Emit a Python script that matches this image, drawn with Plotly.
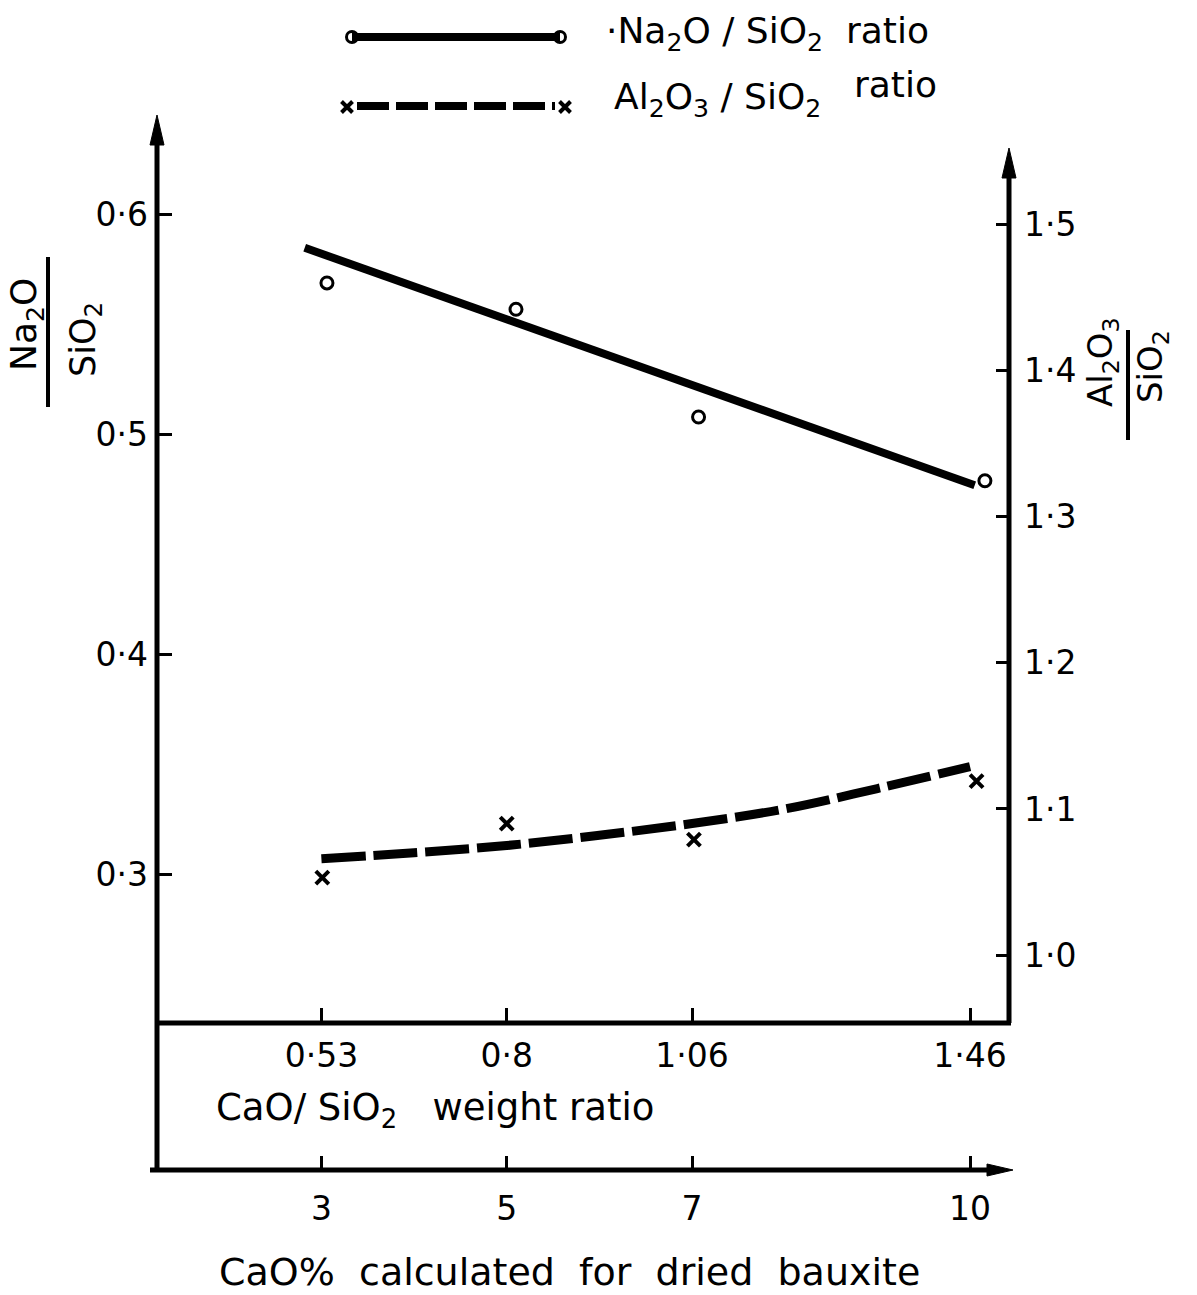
import plotly.graph_objects as go

W, H = 1197, 1295

# CaO content of dried bauxite (%) and the matching CaO/SiO2 weight ratios
cao_pct = [3, 5, 7, 10]
cao_pct_text = ["3", "5", "7", "10"]
cao_sio2_text = ["0·53", "0·8", "1·06", "1·46"]

# Na2O/SiO2 ratio: measured points and fitted straight line
na_x = [3.06, 5.10, 7.07, 10.16]
na_ratio = [0.569, 0.557, 0.508, 0.479]
na_fit_x = [2.82, 10.05]
na_fit = [0.585, 0.477]

# Al2O3/SiO2 ratio: measured points and smoothed curve
al_x = [3.01, 5.00, 7.02, 10.07]
al_ratio = [1.053, 1.090, 1.079, 1.119]
al_fit_x = [3, 4, 5, 6, 7, 8, 9, 10]
al_fit = [1.066, 1.070, 1.075, 1.082, 1.090, 1.100, 1.114, 1.129]

left_ticks = [0.3, 0.4, 0.5, 0.6]
left_text = ["0·3", "0·4", "0·5", "0·6"]
right_ticks = [1.0, 1.1, 1.2, 1.3, 1.4, 1.5]
right_text = ["1·0", "1·1", "1·2", "1·3", "1·4", "1·5"]

FONT = "DejaVu Sans"
INK = "black"
CLEAR = "rgba(0,0,0,0)"


def px(x):
    return x / W


def py(y):
    return 1 - y / H


# frame geometry (page pixels)
X_LEFT, X_RIGHT = 157, 1009
Y_TOP, Y_RATIO, Y_PCT = 115, 1023, 1170

fig = go.Figure()

# Na2O/SiO2 (left axis)
fig.add_trace(go.Scatter(x=na_fit_x, y=na_fit, mode="lines",
                         line=dict(color=INK, width=8), hoverinfo="skip"))
fig.add_trace(go.Scatter(x=na_x, y=na_ratio, mode="markers",
                         marker=dict(symbol="circle-open", size=12, color=INK,
                                     line=dict(width=3, color=INK))))

# Al2O3/SiO2 (right axis, plotted against the CaO % axis)
fig.add_trace(go.Scatter(x=al_fit_x, y=al_fit, mode="lines", xaxis="x2", yaxis="y2",
                         line=dict(color=INK, width=9, dash="44px,8px",
                                   shape="spline"), hoverinfo="skip"))
fig.add_trace(go.Scatter(x=al_x, y=al_ratio, mode="markers", xaxis="x2", yaxis="y2",
                         marker=dict(symbol="x-thin", size=13, color=INK,
                                     line=dict(width=4, color=INK))))

# legend samples drawn on a hidden unit canvas
leg_x = [px(352), px(560)]
fig.add_trace(go.Scatter(x=leg_x, y=[py(37), py(37)], mode="lines", xaxis="x3", yaxis="y3",
                         line=dict(color=INK, width=8), hoverinfo="skip"))
fig.add_trace(go.Scatter(x=leg_x, y=[py(37), py(37)], mode="markers", xaxis="x3", yaxis="y3",
                         marker=dict(symbol="circle-open", size=11, color=INK,
                                     line=dict(width=3, color=INK)), hoverinfo="skip"))
leg2_x = [px(347), px(565)]
fig.add_trace(go.Scatter(x=[px(357), px(555)], y=[py(106), py(106)], mode="lines",
                         xaxis="x3", yaxis="y3",
                         line=dict(color=INK, width=8, dash="32px,7px"), hoverinfo="skip"))
fig.add_trace(go.Scatter(x=leg2_x, y=[py(107), py(107)], mode="markers", xaxis="x3", yaxis="y3",
                         marker=dict(symbol="x-thin", size=11, color=INK,
                                     line=dict(width=4, color=INK)), hoverinfo="skip"))

tickfont = dict(family=FONT, size=33, color=INK)
x_range = [1.226, 10.42]

fig.update_layout(
    width=W, height=H,
    margin=dict(l=0, r=0, t=0, b=0),
    paper_bgcolor="white", plot_bgcolor=CLEAR,
    showlegend=False,
    xaxis=dict(domain=[px(X_LEFT), px(X_RIGHT)], range=x_range, anchor="y",
               tickvals=cao_pct, ticktext=cao_sio2_text, ticks="inside",
               ticklen=15, tickwidth=3, tickcolor=INK, tickfont=tickfont,
               ticklabelstandoff=10,
               showline=False, showgrid=False, zeroline=False),
    xaxis2=dict(overlaying="x", range=x_range, anchor="free", position=py(Y_PCT),
                tickvals=cao_pct, ticktext=cao_pct_text, ticks="inside",
                ticklen=14, tickwidth=3, tickcolor=INK, tickfont=tickfont,
                ticklabelstandoff=16,
                showline=False, showgrid=False, zeroline=False),
    yaxis=dict(domain=[py(Y_RATIO), py(Y_TOP)], range=[0.2323, 0.6454], anchor="x",
               tickvals=left_ticks, ticktext=left_text, ticks="inside",
               ticklen=15, tickwidth=3, tickcolor=INK, tickfont=tickfont,
               ticklabelstandoff=8,
               showline=False, showgrid=False, zeroline=False),
    yaxis2=dict(overlaying="y", side="right", anchor="x", range=[0.9535, 1.575],
                tickvals=right_ticks, ticktext=right_text, ticks="inside",
                ticklen=13, tickwidth=3, tickcolor=INK, tickfont=tickfont,
                ticklabelstandoff=14,
                showline=False, showgrid=False, zeroline=False),
    xaxis3=dict(domain=[0, 1], range=[0, 1], visible=False, anchor="y3"),
    yaxis3=dict(domain=[0, 1], range=[0, 1], visible=False, anchor="x3"),
)

# hand-drawn style frame: two vertical axes, ratio axis and the CaO % axis
line = dict(color=INK, width=5)
shapes = [
    dict(type="line", xref="paper", yref="paper", x0=px(X_LEFT), x1=px(X_LEFT),
         y0=py(Y_TOP + 20), y1=py(Y_PCT), line=line),
    dict(type="line", xref="paper", yref="paper", x0=px(X_RIGHT), x1=px(X_RIGHT),
         y0=py(170), y1=py(Y_RATIO), line=line),
    dict(type="line", xref="paper", yref="paper", x0=px(X_LEFT), x1=px(X_RIGHT + 2),
         y0=py(Y_RATIO), y1=py(Y_RATIO), line=line),
    dict(type="line", xref="paper", yref="paper", x0=px(150), x1=px(995),
         y0=py(Y_PCT), y1=py(Y_PCT), line=line),
]


def arrow_up(xc, tip, length=30, half=7):
    return (f"M {px(xc)},{py(tip)} L {px(xc - half)},{py(tip + length)} "
            f"L {px(xc + half)},{py(tip + length)} Z")


def arrow_right(yc, tip, length=26, half=6):
    return (f"M {px(tip)},{py(yc)} L {px(tip - length)},{py(yc - half)} "
            f"L {px(tip - length)},{py(yc + half)} Z")


for path in (arrow_up(X_LEFT, Y_TOP), arrow_up(X_RIGHT, 148), arrow_right(Y_PCT, 1013)):
    shapes.append(dict(type="path", xref="paper", yref="paper", path=path,
                       fillcolor=INK, line=dict(color=INK, width=1)))

# fraction bars of the axis titles
shapes.append(dict(type="line", xref="paper", yref="paper", x0=px(48), x1=px(48),
                   y0=py(257), y1=py(407), line=dict(color=INK, width=4)))
shapes.append(dict(type="line", xref="paper", yref="paper", x0=px(1128), x1=px(1128),
                   y0=py(330), y1=py(440), line=dict(color=INK, width=4)))
fig.update_layout(shapes=shapes)


def label(text, x, y, xanchor="left", angle=0, size=34):
    fig.add_annotation(text=text, x=px(x), y=py(y), xref="paper", yref="paper",
                       xanchor=xanchor, yanchor="middle", textangle=angle,
                       showarrow=False, font=dict(family=FONT, size=size, color=INK))


label("Na<sub>2</sub>O", 27, 325, xanchor="center", angle=-90, size=36)
label("SiO<sub>2</sub>", 86, 340, xanchor="center", angle=-90, size=35)
label("Al<sub>2</sub>O<sub>3</sub>", 1102, 362, xanchor="center", angle=-90)
label("SiO<sub>2</sub>", 1152, 367, xanchor="center", angle=-90)

label("·Na<sub>2</sub>O / SiO<sub>2</sub>\u00a0\u00a0ratio", 604, 34, size=36)
label("Al<sub>2</sub>O<sub>3</sub> / SiO<sub>2</sub>", 612, 100, size=36)
label("ratio", 852, 85, size=36)

label("CaO/ SiO<sub>2</sub>\u00a0\u00a0\u00a0weight ratio", 214, 1110, size=37)
label("CaO%\u00a0\u00a0calculated\u00a0\u00a0for\u00a0\u00a0dried\u00a0\u00a0bauxite", 217, 1272, size=38)

fig.write_html("out.html")
